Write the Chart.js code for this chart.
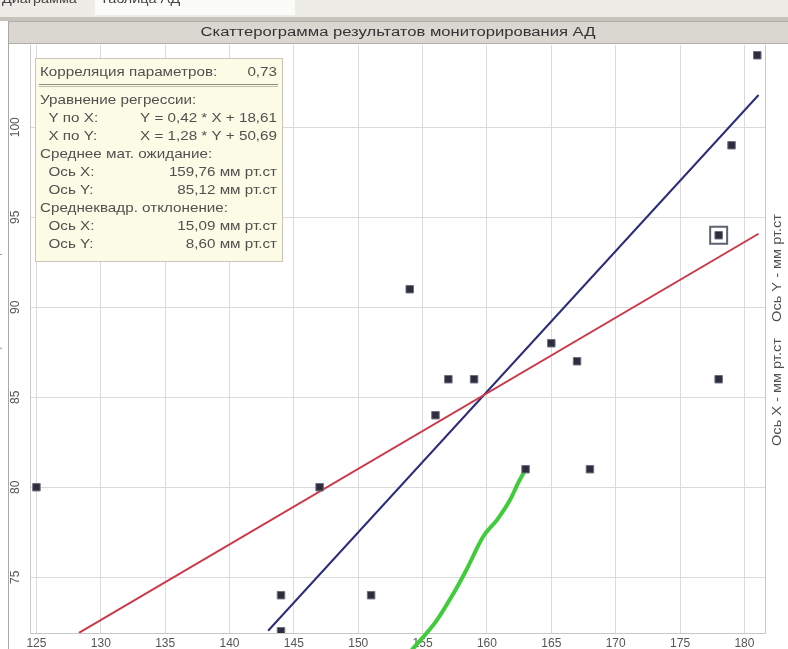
<!DOCTYPE html>
<html>
<head>
<meta charset="utf-8">
<script src="https://cdn.jsdelivr.net/npm/chart.js@4"></script>
<style>
  body { margin: 0; background: #fff; }
  #wrap { width: 788px; height: 649px; }
</style>
</head>
<body>
<div id="wrap"><canvas id="chart" width="788" height="649"></canvas></div>
<script>
// measurements (X = систолическое, Y = диастолическое, мм рт.ст)
var xValues = [125, 144, 144, 151, 147, 154, 156, 157, 159, 165, 167, 163, 168, 178, 178, 179, 181];
var yValues = [80, 74, 72, 74, 80, 91, 84, 86, 86, 88, 87, 81, 81, 86, 94, 99, 104];
var selectedPoint = { x: 178, y: 94 };

// green curve
var greenX = [154.1, 156.1, 157.4, 158.4, 159.7, 160.8, 161.8, 162.4, 163.0];
var greenY = [70.9, 72.6, 74.1, 75.4, 77.25, 78.2, 79.3, 80.2, 81.0];

// regression slopes and means (from the info box)
var slopeYbyX = 0.42;   // Y = 0,42 * X + ...
var slopeXbyY = 1.28;   // X = 1,28 * Y + ...
var meanX = 159.76;
var meanY = 85.12;
var redRange = [128.3, 181.1];
var blueRange = [143, 181.1];

var xTicks = [125, 130, 135, 140, 145, 150, 155, 160, 165, 170, 175, 180];
var yTicks = [75, 80, 85, 90, 95, 100];

var titleText = "Скаттерограмма результатов мониторирования АД";
var sideText = "Ось X - мм рт.ст    Ось Y - мм рт.ст";
var infoHead = ["Корреляция параметров:", "0,73"];
var infoRows = [
  ["Уравнение регрессии:", ""],
  ["  Y по X:", "Y = 0,42 * X + 18,61"],
  ["  X по Y:", "X = 1,28 * Y + 50,69"],
  ["Среднее мат. ожидание:", ""],
  ["  Ось X:", "159,76 мм рт.ст"],
  ["  Ось Y:", "85,12 мм рт.ст"],
  ["Среднеквадр. отклонение:", ""],
  ["  Ось X:", "15,09 мм рт.ст"],
  ["  Ось Y:", "8,60 мм рт.ст"]
];

var points = xValues.map(function (x, i) { return { x: x, y: yValues[i] }; });
var green = greenX.map(function (x, i) { return { x: x, y: greenY[i] }; });
var redLine = redRange.map(function (x) { return { x: x, y: meanY + slopeYbyX * (x - meanX) }; });
var blueLine = blueRange.map(function (x) { return { x: x, y: meanY + (x - meanX) / slopeXbyY }; });

function stretchText(ctx, text, x, y, align, sx) {
  ctx.save();
  ctx.translate(x, y);
  ctx.scale(sx, 1);
  ctx.textAlign = align;
  ctx.fillText(text, 0, 0);
  ctx.restore();
}

var frame = {
  id: "frame",
  beforeDraw: function (chart) {
    var ctx = chart.ctx;
    ctx.save();
    ctx.fillStyle = "#ffffff";
    ctx.fillRect(0, 0, 788, 649);
    // tab strip
    ctx.fillStyle = "#eeece6";
    ctx.fillRect(0, 0, 788, 17);
    ctx.fillStyle = "#fbfbf8";
    ctx.fillRect(95, 0, 200, 15);
    ctx.fillStyle = "#444";
    ctx.font = "12px 'Liberation Sans'";
    ctx.textBaseline = "middle";
    stretchText(ctx, "Диаграмма", 2, 0, "left", 1.2);
    stretchText(ctx, "Таблица АД", 100, 0, "left", 1.2);
    ctx.fillStyle = "#c4c2ba";
    ctx.fillRect(0, 17, 788, 4);
    // title bar
    ctx.fillStyle = "#d9d7cf";
    ctx.fillRect(8, 21, 780, 23);
    ctx.strokeStyle = "#b0aea6";
    ctx.lineWidth = 1;
    ctx.strokeRect(8.5, 21.5, 790, 22);
    ctx.fillStyle = "#333";
    ctx.font = "12px 'Liberation Sans'";
    var w = ctx.measureText(titleText).width;
    stretchText(ctx, titleText, 398, 33, "center", 395 / w);
    // left panel border
    ctx.fillStyle = "#a8a8a8";
    ctx.fillRect(8, 21, 1, 628);
    // cut-off left axis title
    ctx.fillStyle = "#8898b8";
    ctx.font = "11px 'Liberation Sans'";
    ctx.save();
    ctx.translate(-3, 320);
    ctx.rotate(-Math.PI / 2);
    ctx.textAlign = "center";
    ctx.fillText("Ось Y - мм рт.ст    Ось X - мм рт.ст", 0, 0);
    ctx.restore();
    ctx.restore();
  },
  afterDraw: function (chart) {
    var ctx = chart.ctx;
    var a = chart.chartArea;
    ctx.save();
    // right border of plot
    ctx.fillStyle = "#c8c8c8";
    ctx.fillRect(a.right, a.top, 1, a.bottom - a.top);
    // right axis caption
    ctx.fillStyle = "#505050";
    ctx.font = "12px 'Liberation Sans'";
    ctx.textBaseline = "middle";
    var sw = ctx.measureText(sideText).width;
    ctx.save();
    ctx.translate(778, 330);
    ctx.rotate(-Math.PI / 2);
    ctx.scale(232 / sw, 1);
    ctx.textAlign = "center";
    ctx.fillText(sideText, 0, 0);
    ctx.restore();

    // info box
    var bx = 35, by = 58, bw = 247, bh = 203;
    ctx.fillStyle = "#fcfce6";
    ctx.fillRect(bx, by, bw, bh);
    ctx.strokeStyle = "#c8c8b8";
    ctx.lineWidth = 1;
    ctx.strokeRect(bx + 0.5, by + 0.5, bw, bh);
    ctx.fillStyle = "#505050";
    ctx.font = "13px 'Liberation Sans'";
    var sx = 1.17;
    stretchText(ctx, infoHead[0], bx + 5, by + 14, "left", sx);
    stretchText(ctx, infoHead[1], bx + bw - 5, by + 14, "right", sx);
    ctx.fillStyle = "#8a8a80";
    ctx.fillRect(bx + 4, by + 26, bw - 8, 1);
    ctx.fillStyle = "#c0c0b0";
    ctx.fillRect(bx + 4, by + 28, bw - 8, 1);
    ctx.fillStyle = "#505050";
    infoRows.forEach(function (r, i) {
      var y = by + 42 + i * 18;
      stretchText(ctx, r[0], bx + 5, y, "left", sx);
      if (r[1]) stretchText(ctx, r[1], bx + bw - 5, y, "right", sx);
    });
    ctx.restore();
  }
};

var ctx = document.getElementById("chart");
var chart = new Chart(ctx, {
  type: "scatter",
  data: {
    datasets: [
      {
        type: "line",
        data: green,
        borderColor: "#3fcc3a",
        borderWidth: 4,
        pointRadius: 0,
        cubicInterpolationMode: "monotone",
        fill: false,
        clip: false,
        order: 3
      },
      {
        type: "line",
        data: redLine,
        borderColor: "#cc3848",
        borderWidth: 2,
        pointRadius: 0,
        fill: false,
        order: 2
      },
      {
        type: "line",
        data: blueLine,
        borderColor: "#2c2c7a",
        borderWidth: 2,
        pointRadius: 0,
        fill: false,
        order: 2
      },
      {
        data: points,
        pointStyle: "rect",
        pointRadius: 5.3,
        backgroundColor: "#2c2e3e",
        borderColor: "#707080",
        borderWidth: 1,
        order: 1
      },
      {
        data: [selectedPoint],
        pointStyle: "rect",
        pointRadius: 12,
        backgroundColor: "rgba(0,0,0,0)",
        borderColor: "#5c6272",
        borderWidth: 2,
        order: 0
      }
    ]
  },
  plugins: [frame],
  options: {
    responsive: false,
    animation: false,
    events: [],
    layout: { padding: { top: 45, left: 8, right: 23, bottom: 0 } },
    plugins: {
      legend: { display: false },
      tooltip: { enabled: false }
    },
    scales: {
      x: {
        type: "linear",
        min: 124.5,
        max: 181.6,
        afterBuildTicks: function (s) { s.ticks = xTicks.map(function (v) { return { value: v }; }); },
        afterFit: function (s) { s.height = 16; },
        grid: { color: "#dadada", drawTicks: false },
        border: { color: "#c8c8c8" },
        ticks: { color: "#555", padding: 3, font: { size: 12, family: "'Liberation Sans'" } }
      },
      y: {
        type: "linear",
        min: 71.9,
        max: 104.57,
        afterBuildTicks: function (s) { s.ticks = yTicks.map(function (v) { return { value: v }; }); },
        afterFit: function (s) { s.width = 22; },
        grid: { color: "#dadada", drawTicks: false },
        border: { color: "#c8c8c8" },
        ticks: {
          color: "#555",
          padding: 4,
          minRotation: 90,
          maxRotation: 90,
          crossAlign: "center",
          font: { size: 12, family: "'Liberation Sans'" }
        }
      }
    }
  }
});
</script>
</body>
</html>
